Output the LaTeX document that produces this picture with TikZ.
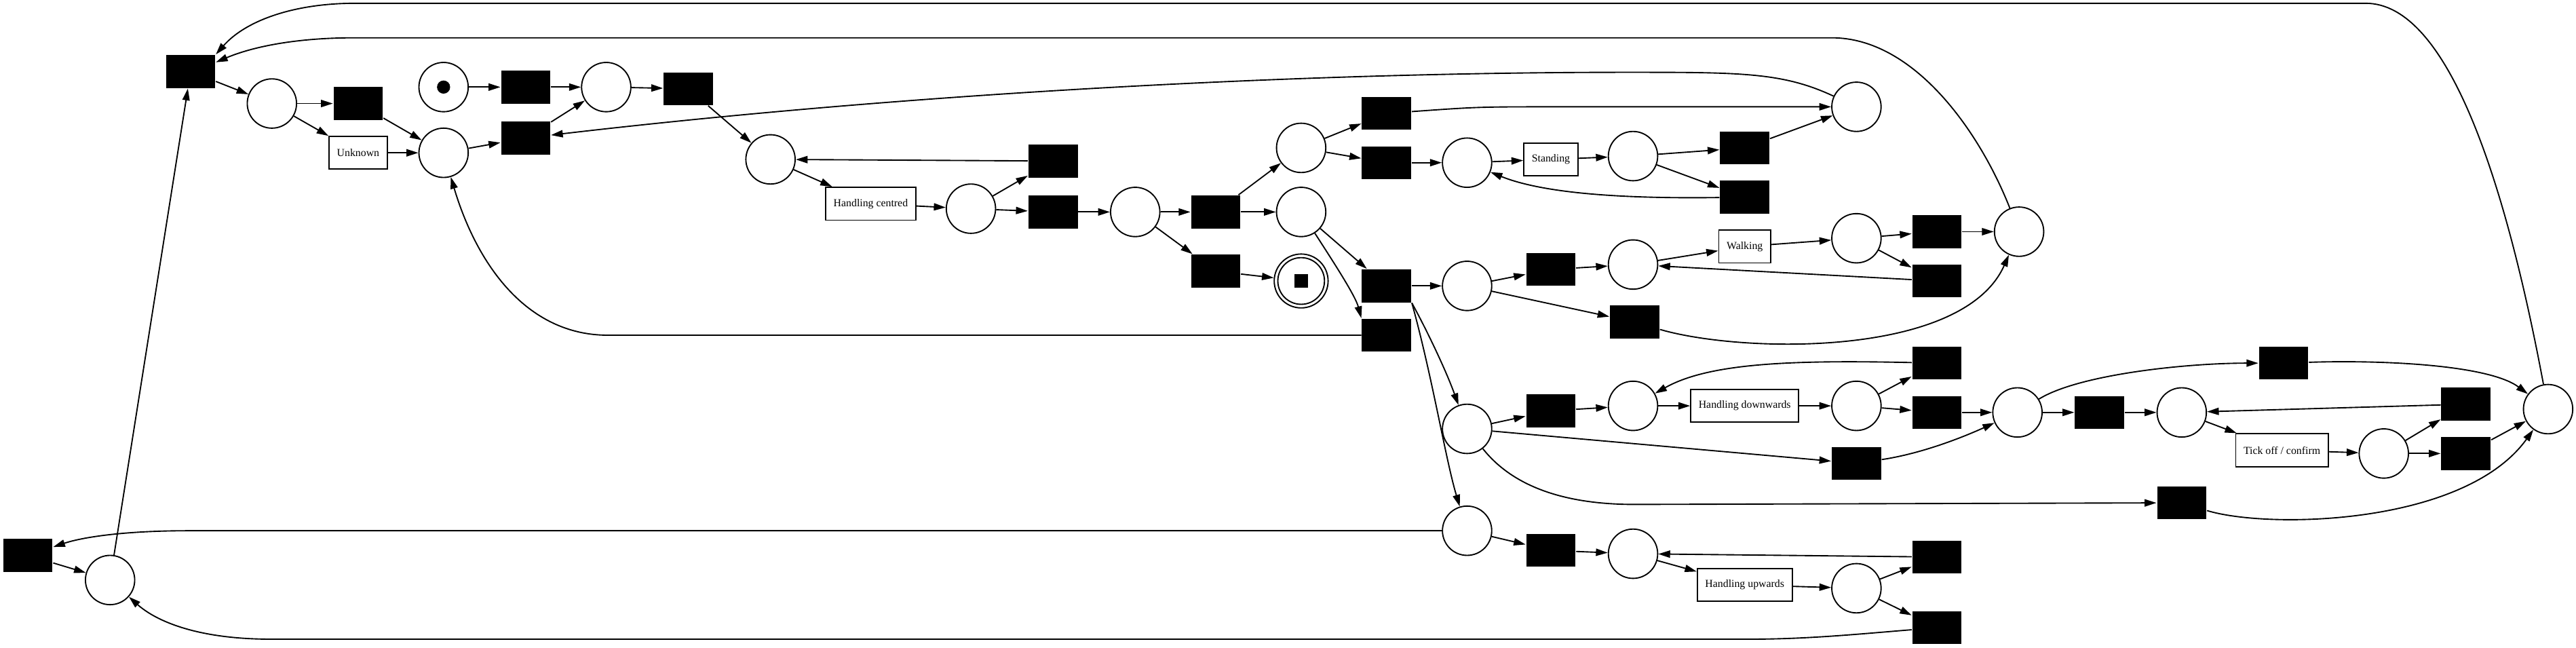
\documentclass[tikz,border=0pt]{standalone}
\usepackage{fontspec}
\setmainfont{Liberation Serif}
\usetikzlibrary{arrows.meta}

\begin{document}
\begin{tikzpicture}[x=0.5mm,y=-0.5mm,>={Triangle[length=3.6mm,width=2.2mm]},line width=1.1pt,
  place/.style={circle,draw,minimum size=15mm,inner sep=0pt},
  trans/.style={rectangle,fill=black,minimum width=15mm,minimum height=10mm,inner sep=0pt},
  task/.style={rectangle,draw,fill=white,minimum width=15mm,minimum height=10mm,inner xsep=2.4mm,font=\fontsize{9.3}{11}\selectfont}]

  \useasboundingbox (0,0) rectangle (1568,394);

  % places
  \node[place] (p1) at (165.5,63) {};
  \node[place] (p2) at (270,53) {};
  \node[place] (p3) at (369,53) {};
  \node[place] (p4) at (270,93) {};
  \node[place] (p5) at (469,97) {};
  \node[place] (p6) at (591,127) {};
  \node[place] (p7) at (691,129) {};
  \node[place] (p8) at (792,90) {};
  \node[place] (p9) at (792,129) {};
  \node[place,minimum size=16.4mm] (pend) at (792,171) {};
  \node[place,minimum size=14.2mm] (pend2) at (pend) {};
  \node[place] (p10) at (893,99) {};
  \node[place] (p11) at (994,95) {};
  \node[place] (p12) at (1130,65) {};
  \node[place] (p13) at (893,174) {};
  \node[place] (p14) at (994,161) {};
  \node[place] (p15) at (1130,145) {};
  \node[place] (p16) at (1229,141) {};
  \node[place] (p17) at (893,261) {};
  \node[place] (p18) at (994,247) {};
  \node[place] (p19) at (1130,247) {};
  \node[place] (p20) at (1228,251) {};
  \node[place] (p21) at (1328,251) {};
  \node[place] (p22) at (1451,276) {};
  \node[place] (p23) at (1551,249) {};
  \node[place] (p24) at (893,323) {};
  \node[place] (p25) at (994,337) {};
  \node[place] (p26) at (1130,358) {};
  \node[place] (p27) at (67,353) {};

  % token and final marking
  \node[circle,fill,minimum size=4mm,inner sep=0pt] (tok) at (p2) {};
  \node[rectangle,fill,minimum size=4mm,inner sep=0pt] (fin) at (pend) {};

  % silent transitions
  \node[trans] (t1) at (116,43.5) {};
  \node[trans] (t2) at (218,63) {};
  \node[trans] (t3) at (320,53) {};
  \node[trans] (t4) at (320,84) {};
  \node[trans] (t5) at (419,54) {};
  \node[trans] (t6) at (641,98) {};
  \node[trans] (t7) at (641,129) {};
  \node[trans] (t8) at (740,129) {};
  \node[trans] (t9) at (740,165) {};
  \node[trans] (t10) at (844,69) {};
  \node[trans] (t11) at (844,99) {};
  \node[trans] (t12) at (844,174) {};
  \node[trans] (t13) at (844,204) {};
  \node[trans] (t14) at (1062,90) {};
  \node[trans] (t15) at (1062,120) {};
  \node[trans] (t16) at (944,164) {};
  \node[trans] (t17) at (995,196) {};
  \node[trans] (t18) at (1179,141) {};
  \node[trans] (t19) at (1179,171) {};
  \node[trans] (t20) at (1179,221) {};
  \node[trans] (t21) at (944,250) {};
  \node[trans] (t22) at (1179,251) {};
  \node[trans] (t23) at (1130,282) {};
  \node[trans] (t24) at (1390,221) {};
  \node[trans] (t25) at (1278,251) {};
  \node[trans] (t26) at (1501,246) {};
  \node[trans] (t27) at (1501,276) {};
  \node[trans] (t28) at (1328,306) {};
  \node[trans] (t29) at (944,335) {};
  \node[trans] (t30) at (1179,339) {};
  \node[trans] (t31) at (1179,382) {};
  \node[trans] (t32) at (17,338) {};

  % visible transitions
  \node[task] (unknown) at (218,93) {Unknown};
  \node[task] (centred) at (530,124) {Handling centred};
  \node[task] (standing) at (944,97) {Standing};
  \node[task] (walking) at (1062,150) {Walking};
  \node[task] (down) at (1062,247) {Handling downwards};
  \node[task] (tick) at (1389,274) {Tick off / confirm};
  \node[task] (up) at (1062,356) {Handling upwards};

  \path[->]
    (t1) edge (p1)
    (p1) edge (t2) edge (unknown)
    (t2) edge (p4)
    (unknown) edge (p4)
    (p2) edge (t3)
    (t3) edge (p3)
    (p4) edge (t4)
    (t4) edge (p3)
    (p3) edge (t5)
    (t5) edge (p5)
    (p5) edge (centred)
    (t6) edge (p5)
    (centred) edge (p6)
    (p6) edge (t6) edge (t7)
    (t7) edge (p7)
    (p7) edge (t8) edge (t9)
    (t9) edge (pend)
    (t8) edge (p8) edge (p9)
    (p8) edge (t10) edge (t11)
    (t11) edge (p10)
    (p10) edge (standing)
    (standing) edge (p11)
    (p11) edge (t14) edge (t15)
    (t14) edge (p12)
    (p9) edge (t12)
    (t12) edge (p13)
    (p13) edge (t16) edge (t17)
    (t16) edge (p14)
    (p14) edge (walking)
    (walking) edge (p15)
    (p15) edge (t18) edge (t19)
    (t18) edge (p16)
    (t19) edge (p14)
    (p17) edge (t21) edge (t23)
    (t21) edge (p18)
    (p18) edge (down)
    (down) edge (p19)
    (p19) edge (t20) edge (t22)
    (t22) edge (p20)
    (p20) edge (t25)
    (t25) edge (p21)
    (p21) edge (tick)
    (tick) edge (p22)
    (p22) edge (t26) edge (t27)
    (t26) edge (p21)
    (t27) edge (p23)
    (p24) edge (t29)
    (t29) edge (p25)
    (p25) edge (up)
    (up) edge (p26)
    (p26) edge (t30) edge (t31)
    (t30) edge (p25)
    (t32) edge (p27)
    (p27) edge (t1);

  % curved arcs
  \draw[->] (p23) .. controls (1525,110) and (1490,2) .. (1440,2) -- (216,2)
    .. controls (180,2) and (150,12) .. (t1.north east);
  \draw[->] (p16) .. controls (1205,80) and (1165,23) .. (1115,23) -- (216,23)
    .. controls (175,23) and (150,30) .. (t1.20);
  \draw[->] (p12) .. controls (1085,44) and (1060,44) .. (990,44)
    .. controls (800,44) and (560,56) .. (t4);
  \draw[->] (t10) .. controls (900,65) .. (950,65) -- (p12);
  \draw[->] (t15) .. controls (990,121) and (940,118) .. (p10);
  \draw[->] (t13) -- (370,204) .. controls (320,204) and (290,160) .. (p4);
  \draw[->] (p9) .. controls (812,160) and (825,180) .. (t13.north west);
  \draw[->] (t12.south east) .. controls (868,200) and (880,225) .. (p17);
  \draw[->] (t12.south east) .. controls (872,230) and (880,280) .. (p24);
  \draw[->] (p17) .. controls (920,295) and (950,307) .. (995,307) -- (t28);
  \draw[->] (t17) .. controls (1060,215) and (1195,218) .. (p16);
  \draw[->] (t20) .. controls (1090,219) and (1040,221) .. (p18);
  \draw[->] (t23) .. controls (1170,276) and (1195,266) .. (p20);
  \draw[->] (p20) .. controls (1265,228) and (1330,221) .. (t24);
  \draw[->] (t24) .. controls (1450,219) and (1515,222) .. (p23);
  \draw[->] (t28) .. controls (1380,322) and (1500,320) .. (p23);
  \draw[->] (t31) .. controls (1130,386) and (1100,389) .. (1065,389) -- (165,389)
    .. controls (120,389) and (95,378) .. (p27);
  \draw[->] (p24) -- (115,323) .. controls (75,323) and (50,327) .. (t32);

\end{tikzpicture}
\end{document}
